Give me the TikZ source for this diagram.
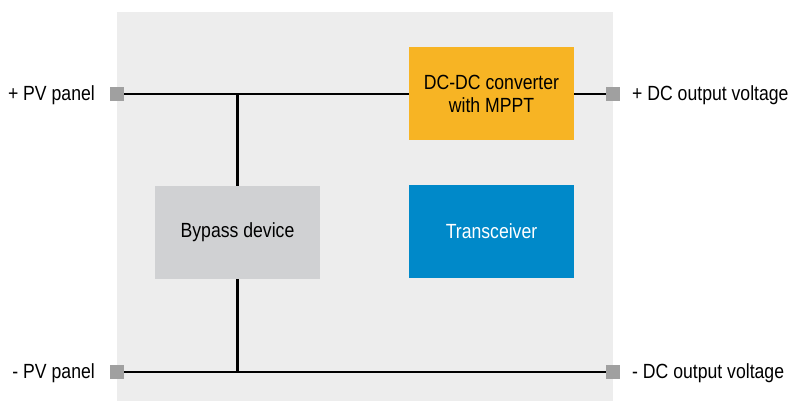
\documentclass[tikz,border=0pt]{standalone}
\usepackage{fontspec}
\setmainfont[FakeStretch=0.86]{Liberation Sans}
\definecolor{bgc}{HTML}{EDEDED}
\definecolor{termc}{HTML}{A0A0A0}
\definecolor{orng}{HTML}{F7B424}
\definecolor{blu}{HTML}{0089C9}
\definecolor{byp}{HTML}{D0D1D3}
\begin{document}
\begin{tikzpicture}[x=1pt,y=-1pt,
  wire/.style={line width=2.6pt,black},
  term/.style={fill=termc,draw=none,minimum size=14pt,inner sep=0pt},
  blk/.style={draw=none,minimum width=165pt,minimum height=93pt,inner sep=0pt,align=center,font=\fontsize{20.5}{23}\selectfont},
  lbl/.style={font=\fontsize{20.5}{23}\selectfont,inner sep=0pt}]
\useasboundingbox (0,0) rectangle (790,401);
\fill[bgc] (117,12) rectangle (613,401);
\node[blk,fill=orng] (dcdc) at (491.5,93.5) {DC-DC converter\\with MPPT};
\node[blk,fill=blu,text=white] (trx) at (491.5,231.5) {Transceiver};
\node[blk,fill=byp] (byp) at (237.5,232.5) {Bypass device};
\node[term] (tl) at (117,94) {};
\node[term] (bl) at (117,372) {};
\node[term] (tr) at (613,94) {};
\node[term] (br) at (613,372) {};
\coordinate (jt) at (237.5,94);
\coordinate (jb) at (237.5,372);
\draw[wire] (tl.east) -- (dcdc.west |- tl.east);
\draw[wire] (dcdc.east |- tr.west) -- (tr.west);
\draw[wire] (bl.east) -- (br.west);
\draw[wire] (jt) -- (byp.north);
\draw[wire] (byp.south) -- (jb);
\node[lbl,anchor=east] (lt) at (95,95) {+ PV panel};
\node[lbl,anchor=east] (lb) at (95,373) {- PV panel};
\node[lbl,anchor=west] (rt) at (632,95) {+ DC output voltage};
\node[lbl,anchor=west] (rb) at (632,373) {- DC output voltage};
\end{tikzpicture}
\end{document}
